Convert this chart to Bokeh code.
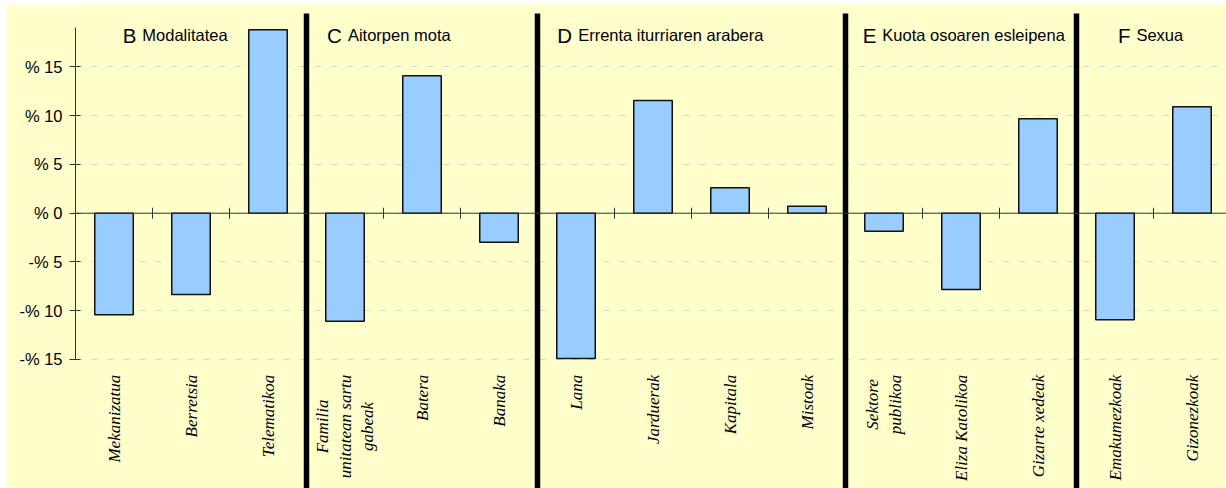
import math
from bokeh.plotting import figure
from bokeh.models import Range1d, FixedTicker, Span
from bokeh.core.properties import value
from bokeh.embed import file_html
from bokeh.resources import INLINE

# ---------------- data ----------------
group_letters = ["B", "C", "D", "E", "F"]
group_names = ["Modalitatea", "Aitorpen mota", "Errenta iturriaren arabera",
               "Kuota osoaren esleipena", "Sexua"]
group_sizes = [3, 3, 4, 3, 2]
categories = ["Mekanizatua", "Berretsia", "Telematikoa",
              "Familia\nunitatean sartu\ngabeak", "Batera", "Banaka",
              "Lana", "Jarduerak", "Kapitala", "Mistoak",
              "Sektore\npublikoa", "Eliza Katolikoa", "Gizarte xedeak",
              "Emakumezkoak", "Gizonezkoak"]
values = [-10.42, -8.34, 18.81,
          -11.08, 14.09, -2.97,
          -14.90, 11.56, 2.61, 0.72,
          -1.85, -7.83, 9.68,
          -10.93, 10.91]
y_ticks = [-15, -10, -5, 0, 5, 10, 15]
y_tick_labels = ["-% 15", "-% 10", "-% 5", "% 0", "% 5", "% 10", "% 15"]

# ---------------- layout ----------------
BG = "#FFFFCC"
W, H = 1220, 484
LEFT = 69
Y0, Y1 = -28.24, 21.41
PX_PER_UNIT = H / (Y1 - Y0)
SLOT_PX = 77.0
LABEL_PX = 17
LINE_STEP_PX = 22.5

n = len(categories)
centers = [i + 0.5 for i in range(n)]
boundaries = list(range(1, n))
separators = []
acc = 0
for s in group_sizes[:-1]:
    acc += s
    separators.append(acc)
title_anchor = [0.79, 3.46, 6.45, 10.40, 13.70]  # slot units
title_y = 18.23
label_y = -16.57

# approximate Times-Italic advance widths (1/1000 em) to center multi-line labels
_tw = dict(a=500, b=500, c=444, d=500, e=444, f=278, g=500, h=500, i=278, j=278,
           k=444, l=278, m=722, n=500, o=500, p=500, q=500, r=389, s=389, t=278,
           u=500, v=444, w=667, x=444, y=444, z=389)
_tw[" "] = 250


def text_px(t):
    return sum(_tw.get(ch, 600) for ch in t) / 1000.0 * LABEL_PX


single_x, single_t = [], []
ml_x, ml_y, ml_t, ml_off = [], [], [], []
for c, lab in zip(centers, categories):
    lines = lab.split("\n")
    if len(lines) > 1:
        longest = max(text_px(line) for line in lines)
        yc = label_y - (longest / 2.0) / PX_PER_UNIT
        m = len(lines)
        for k, line in enumerate(lines):
            ml_x.append(c)
            ml_y.append(yc)
            ml_t.append(line)
            ml_off.append((k - (m - 1) / 2.0) * LINE_STEP_PX)
    else:
        single_x.append(c)
        single_t.append(lab)

p = figure(width=W, height=H, output_backend="svg", toolbar_location=None,
           x_range=Range1d(0, (W - LEFT) / SLOT_PX), y_range=Range1d(Y0, Y1),
           x_axis_location=None, title=None, margin=(4, 0, 0, 6),
           min_border_left=LEFT, min_border_right=0, min_border_top=0, min_border_bottom=0)
p.background_fill_color = BG
p.border_fill_color = BG
p.outline_line_color = None
p.xgrid.grid_line_color = None

ax = p.yaxis[0]
ax.ticker = FixedTicker(ticks=y_ticks)
ax.major_label_overrides = {t: l for t, l in zip(y_ticks, y_tick_labels)}
ax.bounds = (-15, 19)
ax.axis_line_color = "#333333"
ax.major_tick_line_color = "#333333"
ax.major_tick_in = 5
ax.major_tick_out = 6
ax.minor_tick_line_color = None
ax.major_label_standoff = 7
ax.major_label_text_font = "Liberation Sans"
ax.major_label_text_font_size = "16.5px"
ax.major_label_text_color = "black"

p.ygrid.ticker = FixedTicker(ticks=y_ticks)
p.ygrid.grid_line_color = "#D6D6D6"
p.ygrid.grid_line_dash = "6 10"

p.vbar(x=centers, top=values, bottom=0, width=0.5,
       fill_color="#99CCFF", line_color="#111111", line_width=1.5)

p.add_layout(Span(location=0, dimension="width", line_color="#333333", line_width=1))
p.scatter(x=boundaries, y=[0] * len(boundaries), marker="dash", angle=math.pi / 2,
          size=11, line_color="#333333", line_width=1)

p.segment(x0=separators, x1=separators, y0=[20.48] * len(separators),
          y1=[Y0 - 1] * len(separators), line_color="black", line_width=5.5)

label_style = dict(angle=math.pi / 2, text_baseline="middle",
                   text_font=value("Liberation Serif"), text_font_style="italic",
                   text_font_size=f"{LABEL_PX}px", text_color="black")
p.text(x=single_x, y=[label_y] * len(single_x), text=single_t, text_align="right", **label_style)
p.text(x=ml_x, y=ml_y, text=ml_t, x_offset=ml_off, text_align="center", **label_style)

p.text(x=title_anchor, y=[title_y] * len(group_letters), text=group_letters,
       text_align="right", text_baseline="alphabetic",
       text_font=value("Liberation Sans"), text_font_size="20.5px", text_color="black")
p.text(x=title_anchor, y=[title_y] * len(group_names), text=group_names,
       text_align="left", text_baseline="alphabetic", x_offset=6,
       text_font=value("Liberation Sans"), text_font_size="16.5px", text_color="black")

open("out.html", "w").write(file_html(p, INLINE))
